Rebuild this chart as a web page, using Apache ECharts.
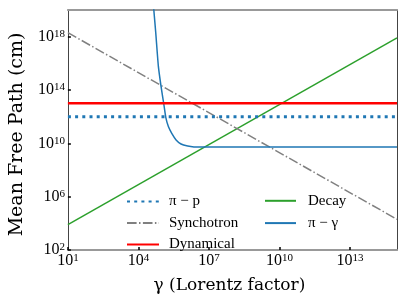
<!DOCTYPE html>
<html>
<head>
<meta charset="utf-8">
<script src="https://cdn.jsdelivr.net/npm/echarts@6/dist/echarts.min.js"></script>
<style>html,body{margin:0;padding:0;background:#fff;}#c{width:407px;height:305px;}</style>
</head>
<body>
<div id="c"></div>
<script>
// ---- data ----
var xTickExps = [1, 4, 7, 10, 13];
var yTickExps = [2, 6, 10, 14, 18];

var piPX = [10, 1e15];
var piPY = [1e12, 1e12];

var dynX = [10, 1e15];
var dynY = [1e13, 1e13];

var syncX = [10, 1e15];
var syncY = [2e18, 2e4];

var decayX = [10, 1e15];
var decayY = [8e3, 8e17];

var piGammaX = [4.27e4, 4.52e4, 5.48e4, 7.08e4, 9.2e4, 1.2e5, 1.46e5, 1.88e5, 2.62e5, 4.0e5, 6.5e5, 1.25e6, 2.3e6, 5e6, 1e8, 1e15];
var piGammaY = [3e20, 1e20, 1.8e18, 5.6e15, 1.8e14, 8.9e12, 8.9e11, 1.8e11, 5.6e10, 1.8e10, 8.9e9, 6.3e9, 5.4e9, 5.3e9, 5.3e9, 5.3e9];

function pairs(xs, ys) { return xs.map(function (x, i) { return [x, ys[i]]; }); }

var FONT = 'Liberation Serif';
var NAMEFONT = 'DejaVu Serif';
var rich = {
  b: { fontFamily: FONT, fontSize: 16, lineHeight: 16, color: '#000' },
  s: { fontFamily: FONT, fontSize: 11, lineHeight: 8, verticalAlign: 'top', color: '#000' }
};
function supLabel(v) {
  var e = Math.round(Math.log(v) / Math.LN10);
  return '{b|10}{s|' + e + '}';
}

var chart = echarts.init(document.getElementById('c'), null, { renderer: 'canvas' });
chart.setOption({
  animation: false,
  backgroundColor: '#fff',
  grid: { left: 66, right: 10, top: 10, bottom: 55 },
  xAxis: [{
    type: 'log', logBase: 10, min: 10, max: 1e15, interval: 3,
    name: 'γ (Lorentz factor)', nameLocation: 'middle', nameGap: 27,
    nameTextStyle: { fontFamily: NAMEFONT, fontSize: 17, color: '#000', padding: [0, 6, 0, 0] },
    axisLine: { show: true, lineStyle: { color: '#999', width: 2 } },
    axisTick: { show: true, inside: true, length: 3, lineStyle: { color: '#000', width: 1.5 } },
    axisLabel: { margin: 3, showMaxLabel: false, formatter: supLabel, rich: rich },
    splitLine: { show: false }
  }, {
    type: 'log', logBase: 10, min: 10, max: 1e15, position: 'top',
    axisLine: { show: true, lineStyle: { color: '#999', width: 2 } },
    axisTick: { show: false }, axisLabel: { show: false }, splitLine: { show: false }
  }],
  yAxis: [{
    type: 'log', logBase: 10, min: 1e2, max: 1e20, interval: 4,
    name: 'Mean Free Path (cm)', nameLocation: 'middle', nameGap: 40,
    nameTextStyle: { fontFamily: NAMEFONT, fontSize: 19, color: '#000', padding: [0, 9, 0, 0] },
    axisLine: { show: true, lineStyle: { color: '#444', width: 1 } },
    axisTick: { show: true, inside: true, length: 3, lineStyle: { color: '#000', width: 1.5 } },
    axisLabel: { margin: 3, showMaxLabel: false, formatter: supLabel, rich: rich },
    splitLine: { show: false }
  }, {
    type: 'log', logBase: 10, min: 1e2, max: 1e20, position: 'right',
    axisLine: { show: true, lineStyle: { color: '#444', width: 1 } },
    axisTick: { show: false }, axisLabel: { show: false }, splitLine: { show: false }
  }],
  legend: [{
    data: ['π − p', 'Synchotron', 'Dynamical'],
    orient: 'vertical', left: 126, top: 194, padding: 0,
    itemWidth: 32, itemHeight: 14, itemGap: 6.5,
    itemStyle: { opacity: 0 },
    textStyle: { fontFamily: FONT, fontSize: 15, lineHeight: 14, color: '#000', padding: [0, 0, 0, 5] }
  }, {
    data: ['Decay', 'π − γ'],
    orient: 'vertical', left: 264, top: 193.3, padding: 0,
    itemWidth: 31, itemHeight: 14, itemGap: 7.3,
    itemStyle: { opacity: 0 },
    textStyle: { fontFamily: FONT, fontSize: 15, lineHeight: 14, color: '#000', padding: [0, 0, 0, 7] }
  }],
  series: [
    { name: 'Decay', type: 'line', data: pairs(decayX, decayY), showSymbol: false, symbol: 'none',
      lineStyle: { color: '#2ca02c', width: 1.5 }, itemStyle: { color: '#2ca02c' }, z: 2 },
    { name: 'Synchotron', type: 'line', data: pairs(syncX, syncY), showSymbol: false, symbol: 'none',
      lineStyle: { color: '#808080', width: 1.5, type: [9.6, 2.4, 1.5, 2.4] }, itemStyle: { color: '#808080' }, z: 2 },
    { name: 'π − γ', type: 'line', data: pairs(piGammaX, piGammaY), showSymbol: false, symbol: 'none', smooth: 0.2,
      lineStyle: { color: '#1f77b4', width: 1.5 }, itemStyle: { color: '#1f77b4' }, z: 3 },
    { name: 'π − p', type: 'line', data: pairs(piPX, piPY), showSymbol: false, symbol: 'none',
      lineStyle: { color: '#1f77b4', width: 3, type: [3, 4.2] }, itemStyle: { color: '#1f77b4' }, z: 4 },
    { name: 'Dynamical', type: 'line', data: pairs(dynX, dynY), showSymbol: false, symbol: 'none',
      lineStyle: { color: '#ff0000', width: 2.5 }, itemStyle: { color: '#ff0000' }, z: 4 }
  ]
});
</script>
</body>
</html>
